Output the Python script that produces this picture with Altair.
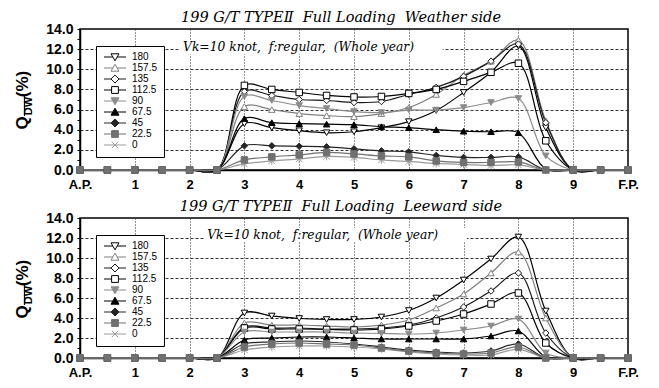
import altair as alt
import pandas as pd

stations = [0, 0.5, 1, 1.5, 2, 2.5, 3, 3.5, 4, 4.5, 5, 5.5, 6, 6.5, 7, 7.5, 8, 8.5, 9, 9.5, 10]
series_names = ["180", "157.5", "135", "112.5", "90", "67.5", "45", "22.5", "0"]

weather_180   = [0, 0, 0, 0, 0, 0, 4.6, 4.2, 3.9, 3.7, 3.8, 4.2, 4.8, 5.9, 7.7, 9.7, 12.3, 4.2, 0, 0, 0]
weather_157_5 = [0, 0, 0, 0, 0, 0, 6.3, 6.0, 5.6, 5.4, 5.3, 5.6, 6.2, 7.5, 9.4, 10.8, 12.9, 4.9, 0, 0, 0]
weather_135   = [0, 0, 0, 0, 0, 0, 7.8, 7.4, 7.0, 6.9, 6.7, 6.8, 7.5, 8.2, 9.3, 10.8, 12.5, 4.7, 0, 0, 0]
weather_112_5 = [0, 0, 0, 0, 0, 0, 8.4, 8.0, 7.7, 7.4, 7.25, 7.3, 7.6, 8.0, 8.8, 9.7, 10.6, 2.9, 0, 0, 0]
weather_90    = [0, 0, 0, 0, 0, 0, 7.3, 6.9, 6.4, 6.1, 5.8, 5.7, 5.95, 5.95, 6.2, 6.7, 7.1, 1.4, 0, 0, 0]
weather_67_5  = [0, 0, 0, 0, 0, 0, 5.1, 4.7, 4.6, 4.55, 4.5, 4.3, 4.2, 4.0, 3.85, 3.8, 3.7, 0.1, 0, 0, 0]
weather_45    = [0, 0, 0, 0, 0, 0, 2.4, 2.4, 2.35, 2.3, 2.1, 1.9, 1.8, 1.45, 1.25, 1.25, 1.3, 0, 0, 0, 0]
weather_22_5  = [0, 0, 0, 0, 0, 0, 1.0, 1.3, 1.5, 1.75, 1.6, 1.4, 1.3, 0.9, 0.75, 0.75, 0.8, 0, 0, 0, 0]
weather_0     = [0, 0, 0, 0, 0, 0, 0.6, 0.9, 1.1, 1.35, 1.25, 1.0, 0.85, 0.65, 0.55, 0.45, 0.5, 0, 0, 0, 0]

leeward_180   = [0, 0, 0, 0, 0, 0, 4.5, 4.2, 3.95, 3.85, 3.85, 4.1, 4.75, 6.0, 7.8, 9.9, 12.1, 4.7, 0, 0, 0]
leeward_157_5 = [0, 0, 0, 0, 0, 0, 3.5, 3.3, 3.3, 3.2, 3.1, 3.3, 3.8, 5.0, 6.4, 8.5, 10.6, 4.0, 0, 0, 0]
leeward_135   = [0, 0, 0, 0, 0, 0, 3.1, 3.0, 3.0, 2.9, 2.9, 3.0, 3.3, 4.0, 5.1, 6.7, 8.5, 2.5, 0, 0, 0]
leeward_112_5 = [0, 0, 0, 0, 0, 0, 3.0, 2.9, 2.9, 2.85, 2.8, 2.9, 3.2, 3.7, 4.4, 5.4, 6.5, 1.5, 0, 0, 0]
leeward_90    = [0, 0, 0, 0, 0, 0, 2.6, 2.6, 2.6, 2.6, 2.5, 2.45, 2.4, 2.5, 2.8, 3.2, 3.9, 0.5, 0, 0, 0]
leeward_67_5  = [0, 0, 0, 0, 0, 0, 1.8, 2.0, 2.1, 2.1, 2.0, 1.9, 1.9, 1.9, 1.9, 2.2, 2.7, 0.1, 0, 0, 0]
leeward_45    = [0, 0, 0, 0, 0, 0, 1.4, 1.6, 1.7, 1.6, 1.4, 1.1, 0.8, 0.6, 0.5, 0.7, 1.4, 0, 0, 0, 0]
leeward_22_5  = [0, 0, 0, 0, 0, 0, 1.1, 1.4, 1.5, 1.4, 1.3, 1.0, 0.7, 0.5, 0.4, 0.5, 1.1, 0, 0, 0, 0]
leeward_0     = [0, 0, 0, 0, 0, 0, 0.8, 1.1, 1.2, 1.2, 1.1, 0.9, 0.6, 0.4, 0.3, 0.3, 0.87, 0, 0, 0, 0]

weather = dict(zip(series_names, [weather_180, weather_157_5, weather_135, weather_112_5, weather_90,
                                  weather_67_5, weather_45, weather_22_5, weather_0]))
leeward = dict(zip(series_names, [leeward_180, leeward_157_5, leeward_135, leeward_112_5, leeward_90,
                                  leeward_67_5, leeward_45, leeward_22_5, leeward_0]))

y_tick_values = list(range(0, 15))
x_tick_values = list(range(0, 11))

line_colors = ["#000000", "#808080", "#1a1a1a", "#000000", "#8c8c8c", "#000000", "#262626", "#707070", "#9a9a9a"]
fill_colors = ["#ffffff", "#ffffff", "#ffffff", "#ffffff", "#8c8c8c", "#000000", "#262626", "#707070", "#ffffff"]
plot_shapes = ["triangle-down", "triangle-up", "diamond", "square", "triangle-down", "triangle-up",
               "diamond", "square", "M-1,-1L1,1M-1,1L1,-1M0,-1.2V1.2"]
legend_shapes = [
    "M-2.75,0H-0.54M0.54,0H2.75M-1,-0.8H1L0,0.95Z",
    "M-2.75,0H-0.54M0.54,0H2.75M-1,0.8H1L0,-0.95Z",
    "M-2.75,0H-1M1,0H2.75M-1,0L0,-1L1,0L0,1Z",
    "M-2.75,0H-0.85M0.85,0H2.75M-0.85,-0.85H0.85V0.85H-0.85Z",
    "M-2.75,0H-0.54M0.54,0H2.75M-1,-0.8H1L0,0.95Z",
    "M-2.75,0H-0.54M0.54,0H2.75M-1,0.8H1L0,-0.95Z",
    "M-2.75,0H-1M1,0H2.75M-1,0L0,-1L1,0L0,1Z",
    "M-2.75,0H-0.85M0.85,0H2.75M-0.85,-0.85H0.85V0.85H-0.85Z",
    "M-2.75,0H2.75M-0.8,-0.8L0.8,0.8M-0.8,0.8L0.8,-0.8",
]
draw_order = ["180", "157.5", "135", "112.5", "90", "67.5", "45", "0", "22.5"]

W = 548
LABEL_FONT = "Liberation Sans"
SERIF = "DejaVu Serif"


def long_df(d):
    rows = []
    for s in draw_order:
        for x, v in zip(stations, d[s]):
            rows.append({"station": x, "value": v, "series": s})
    return pd.DataFrame(rows)


def panel(d, title, ann_x, ann_y, rect, H):
    df = long_df(d)
    xs = alt.Scale(domain=[0, 10], nice=False, zero=False)
    ys = alt.Scale(domain=[0, 14], nice=False)
    xaxis = alt.Axis(
        values=x_tick_values,
        labelExpr="datum.value == 0 ? 'A.P.' : (datum.value == 10 ? 'F.P.' : datum.label)",
        grid=True, gridDash=[1, 2], gridColor="#222222", gridWidth=1,
        gridOpacity={"condition": {"test": "datum.value == 0 || datum.value == 10", "value": 0}, "value": 1},
        ticks=False, labelPadding=8, domainColor="black", domainWidth=1.5,
        labelFont=LABEL_FONT, labelFontWeight="bold", labelFontSize=13, labelColor="black",
        labelFlush=False, labelOverlap=False,
    )
    yaxis = alt.Axis(
        values=y_tick_values,
        labelExpr="datum.value % 2 == 0 ? format(datum.value, '.1f') : ''",
        grid=True, gridDash=[3, 2], gridColor="#333333", gridWidth=1,
        gridOpacity={"condition": {"test": "datum.value % 2 == 1 || datum.value == 0 || datum.value == 14",
                                   "value": 0}, "value": 1},
        ticks=True, tickSize=3, tickColor="black", domainColor="black", domainWidth=1.5,
        labelFont=LABEL_FONT, labelFontWeight="bold", labelFontSize=14, labelColor="black",
        labelPadding=4, labelFlush=False, labelOverlap=False,
    )
    X = alt.X("station:Q", scale=xs, axis=xaxis, title=None)
    Y = alt.Y("value:Q", scale=ys, axis=yaxis, title=None)

    base = alt.Chart(df)

    rect_df = pd.DataFrame({"station": [rect[0]], "x2": [rect[1]], "value": [rect[2]], "y2": [rect[3]]})
    bg = alt.Chart(rect_df).mark_rect(fill="white").encode(x=X, x2="x2:Q", y=Y, y2="y2:Q")

    ann_df = pd.DataFrame({"station": [ann_x], "value": [ann_y],
                           "t": ["Vk=10 knot,\u00a0\u00a0f:regular,\u00a0\u00a0(Whole year)"]})
    ann = alt.Chart(ann_df).mark_text(font=SERIF, fontStyle="italic", fontSize=12.3, align="left",
                                      baseline="middle", color="black").encode(x=X, y=Y, text="t:N")

    lines = base.mark_line(interpolate="catmull-rom", strokeWidth=1.2).encode(
        x=X, y=Y, detail="series:N",
        stroke=alt.Stroke("series:N", scale=alt.Scale(domain=series_names, range=line_colors), legend=None),
    )
    pts = base.mark_point(size=42, strokeWidth=1, opacity=1, filled=False).encode(
        x=X, y=Y,
        shape=alt.Shape("series:N", scale=alt.Scale(domain=series_names, range=plot_shapes), legend=None),
        fill=alt.Fill("series:N", scale=alt.Scale(domain=series_names, range=fill_colors), legend=None),
        stroke=alt.Stroke("series:N", scale=alt.Scale(domain=series_names, range=line_colors), legend=None),
    )
    leg = alt.Legend(orient="none", legendX=16, legendY=17, title=None, strokeColor="black",
                     fillColor="white", padding=6, labelFont=LABEL_FONT, labelFontSize=10,
                     labelColor="black", symbolSize=64, symbolStrokeWidth=1, rowPadding=-1,
                     labelOffset=12, symbolOffset=8)
    legend_layer = base.mark_point(size=64, strokeWidth=1, opacity=1, filled=False).transform_filter(
        "datum.value < -100").encode(
        x=X, y=Y,
        shape=alt.Shape("series:N", scale=alt.Scale(domain=series_names, range=legend_shapes), legend=leg),
        fill=alt.Fill("series:N", scale=alt.Scale(domain=series_names, range=fill_colors), legend=leg),
        stroke=alt.Stroke("series:N", scale=alt.Scale(domain=series_names, range=line_colors), legend=leg),
    )

    one = alt.Chart(pd.DataFrame({"a": [0]}))
    q = one.mark_text(text="Q", angle=270, font=LABEL_FONT, fontWeight="bold", fontSize=17,
                      align="center", baseline="middle", color="black").encode(
        x=alt.value(-57), y=alt.value(94))
    dw = one.mark_text(text="DW", angle=270, font=LABEL_FONT, fontWeight="bold", fontSize=11,
                       align="center", baseline="middle", color="black").encode(
        x=alt.value(-51), y=alt.value(77))
    pct = one.mark_text(text="(%)", angle=270, font=LABEL_FONT, fontWeight="bold", fontSize=17,
                        align="center", baseline="middle", color="black").encode(
        x=alt.value(-57), y=alt.value(55))
    bar = one.mark_rule(strokeWidth=1.2, color="black").encode(
        x=alt.value(-55.5), y=alt.value(67), y2=alt.value(87))

    return alt.layer(bg, ann, lines, pts, legend_layer, q, dw, pct, bar).resolve_scale(
        shape="independent", fill="independent", stroke="independent"
    ).properties(
        width=W, height=H,
        title=alt.Title(title, font=SERIF, fontStyle="italic", fontWeight="normal", fontSize=14.5,
                        anchor="middle", dx=-13, offset=-3, color="black"),
    )


top = panel(weather, "199 G/T TYPE\u2161\u00a0\u00a0Full Loading\u00a0\u00a0Weather side",
            1.88, 12.2, (1.82, 6.62, 11.5, 12.9), 141)
bottom = panel(leeward, "199 G/T TYPE\u2161\u00a0\u00a0Full Loading\u00a0\u00a0Leeward side",
               2.32, 12.3, (2.28, 7.06, 11.6, 13.0), 140)

chart = alt.vconcat(top, bottom, spacing=5).properties(
    padding={"left": 5, "top": 0, "right": 5, "bottom": 0}
).configure_view(stroke="black", strokeWidth=1.5)

chart.save("out.html", embed_options={"renderer": "svg", "actions": False})
